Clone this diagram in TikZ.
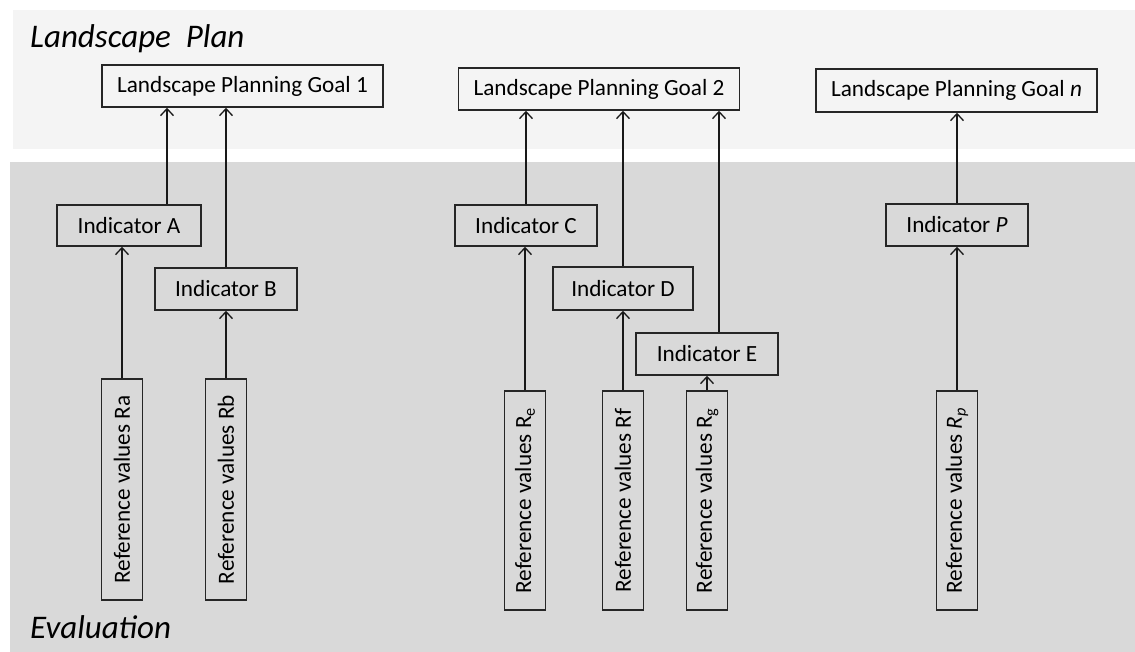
\documentclass[tikz,border=0pt]{standalone}
\usepackage{fontspec}
\setmainfont{Carlito}
\usetikzlibrary{arrows.meta}
\definecolor{topbg}{HTML}{F4F4F4}
\definecolor{botbg}{HTML}{D9D9D9}
\tikzset{
  x=1pt, y=-1pt,
  box/.style={draw=black!85, line width=1.5pt, inner sep=0pt, align=center,
    font=\fontsize{23.2}{27}\selectfont},
  goalbox/.style={box, minimum width=281pt, minimum height=42pt},
  indbox/.style={box, minimum width=142pt, minimum height=42pt},
  refbox/.style={box, minimum width=220pt, minimum height=41pt, rotate=90},
  arr/.style={draw=black!90, line width=1.5pt, -{Straight Barb[length=7pt,width=13pt,line width=1.3pt]}},
  ttl/.style={anchor=base west, inner sep=0pt, font=\fontsize{33}{37}\selectfont\itshape}
}
\begin{document}
\begin{tikzpicture}
\useasboundingbox (0,0) rectangle (1135,652);
\fill[white] (0,0) rectangle (1135,652);
\fill[topbg] (13,10) rectangle (1135,149);
\fill[botbg] (10,162) rectangle (1135,652);

\node[ttl] (t1) at (30,48) {Landscape\ \ Plan};
\node[ttl] (t2) at (30,638) {Evaluation};

% goals
\node[goalbox] (G1) at (242.5,86) {Landscape Planning Goal 1};
\node[goalbox] (G2) at (599,89) {Landscape Planning Goal 2};
\node[goalbox, minimum height=43pt] (Gn) at (956.5,90.5) {Landscape Planning Goal \textit{n}};

% indicators
\node[indbox, minimum width=144pt, minimum height=41pt] (A) at (129,225.5) {Indicator A};
\node[indbox] (B) at (226,289) {Indicator B};
\node[indbox, minimum height=41pt] (C) at (526,225.5) {Indicator C};
\node[indbox, minimum width=140pt, minimum height=43pt] (D) at (623,288.5) {Indicator D};
\node[indbox] (E) at (707,354) {Indicator E};
\node[indbox] (P) at (957,225) {Indicator \textit{P}};

% reference values
\node[refbox, minimum width=221pt] (Ra) at (122,489.5) {Reference values Ra};
\node[refbox, minimum width=221pt] (Rb) at (226,489.5) {Reference values Rb};
\node[refbox, minimum width=219pt] (Re) at (525,500.5) {Reference values R\textsubscript{e}};
\node[refbox, minimum width=219pt] (Rf) at (623,500.5) {Reference values Rf};
\node[refbox, minimum width=219pt] (Rg) at (707,500.5) {Reference values R\textsubscript{g}};
\node[refbox, minimum width=219pt] (Rp) at (957,500.5) {Reference values \textit{R}\textsubscript{\textit{p}}};

% connectors
\draw[arr] ([xshift=38pt]A.north) -- ([xshift=38pt]A.north |- G1.south);
\draw[arr] (B.north) -- (B.north |- G1.south);
\draw[arr] (Ra.east) -- (Ra.east |- A.south);
\draw[arr] (Rb.east) -- (Rb.east |- B.south);

\draw[arr] (C.north) -- (C.north |- G2.south);
\draw[arr] (D.north) -- (D.north |- G2.south);
\draw[arr] ([xshift=12pt]E.north) -- ([xshift=12pt]E.north |- G2.south);
\draw[arr] (Re.east) -- (Re.east |- C.south);
\draw[arr] (Rf.east) -- (Rf.east |- D.south);
\draw[arr] (Rg.east) -- (Rg.east |- E.south);

\draw[arr] (P.north) -- (P.north |- Gn.south);
\draw[arr] (Rp.east) -- (Rp.east |- P.south);
\end{tikzpicture}
\end{document}
